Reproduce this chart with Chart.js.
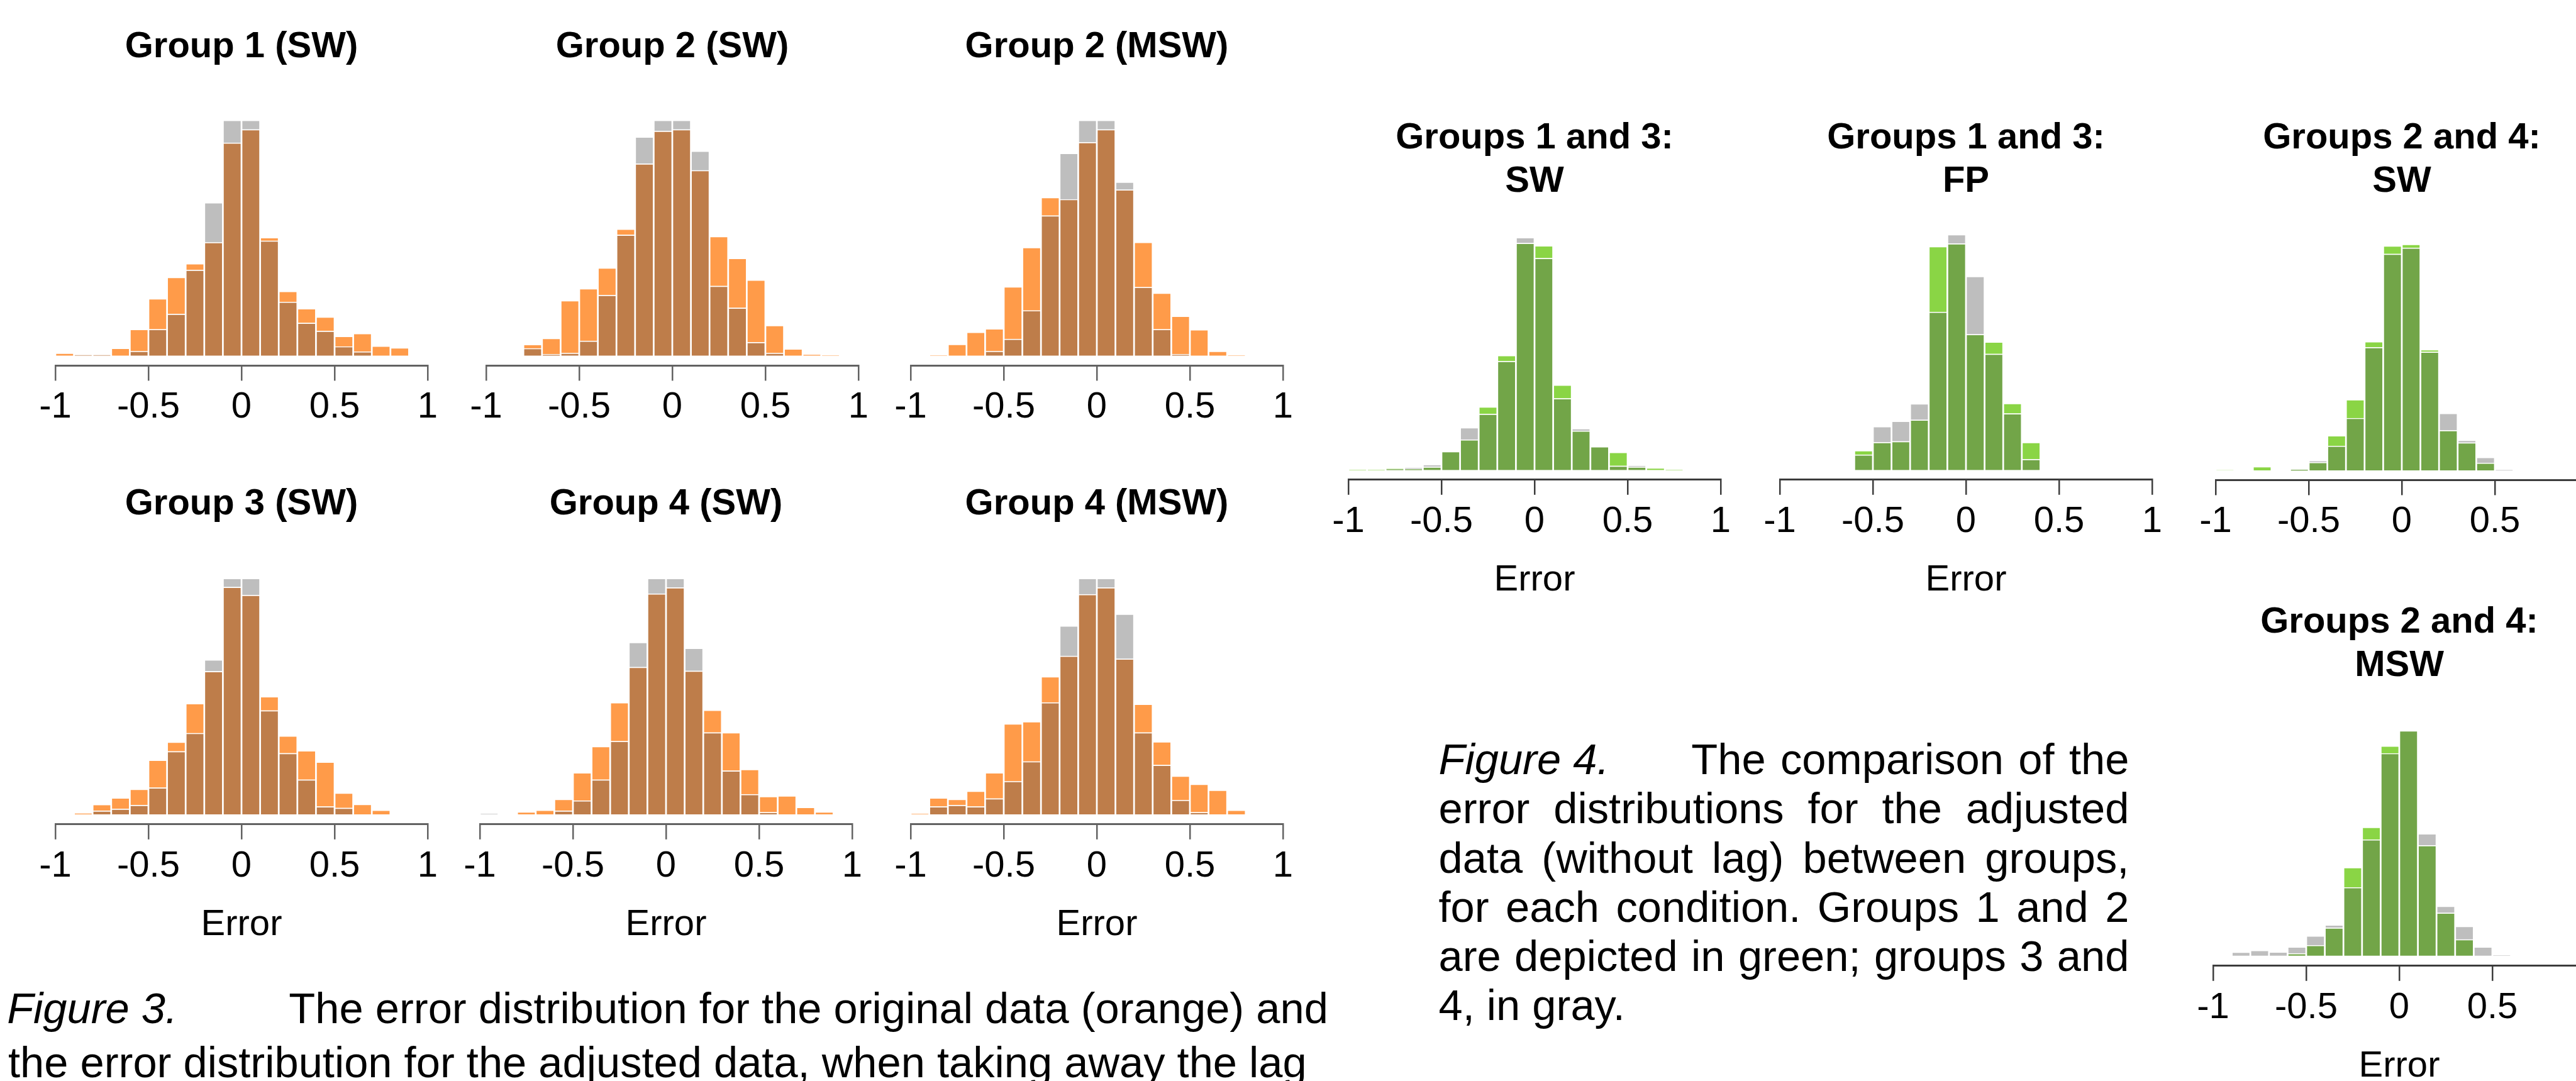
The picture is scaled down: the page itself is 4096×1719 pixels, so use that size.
<!DOCTYPE html>
<html>
<head>
<meta charset="utf-8">
<title>Error distributions</title>
<script src="https://cdn.jsdelivr.net/npm/chart.js@4.4.1/dist/chart.umd.min.js"></script>
<style>
  html, body { margin: 0; padding: 0; background: #fff; }
  #stage { position: relative; width: 4096px; height: 1719px; overflow: hidden; background: #fff; }
  #stage canvas { position: absolute; }
  .cap { position: absolute; white-space: nowrap; color: #000; font-family: 'Liberation Sans', Arial, sans-serif; }
</style>
</head>
<body>
<div id="stage"></div>
<script>
// --- bins and axis ticks ---
const binCenters = [-0.95, -0.85, -0.75, -0.65, -0.55, -0.45, -0.35, -0.25, -0.15, -0.05,
                    0.05, 0.15, 0.25, 0.35, 0.45, 0.55, 0.65, 0.75, 0.85, 0.95];
const xTickValues = [-1, -0.5, 0, 0.5, 1];
const xTickLabels = ['-1', '-0.5', '0', '0.5', '1'];

// --- Figure 3: original (orange) vs adjusted (gray), relative heights ---
const g1swOrig  = [1.1, 0.3, 0.3, 3.2, 11.2, 24.2, 33.3, 39.1, 48.1, 90.4, 96.1, 50.2, 27.4, 20.0, 16.5, 8.3, 9.5, 4.1, 3.4, 0];
const g1swAdj   = [0, 0.3, 0.3, 0, 1.9, 11.2, 17.7, 36.4, 65.0, 100, 100, 48.8, 22.8, 13.9, 10.5, 3.9, 1.7, 0, 0, 0];
const g2swOrig  = [0, 0, 4.8, 7.4, 23.4, 28.5, 37.3, 53.8, 81.5, 95.4, 96.1, 78.7, 50.7, 41.4, 32.2, 12.9, 2.9, 0.6, 0.2, 0];
const g2swAdj   = [0, 0, 3.1, 0.6, 1.1, 6.3, 25.7, 51.3, 92.9, 100, 100, 86.9, 29.6, 20.3, 5.7, 1.1, 0, 0, 0, 0];
const g2mswOrig = [0, 0.2, 4.9, 10.0, 11.5, 29.3, 46.0, 67.2, 66.4, 90.6, 96.1, 70.5, 48.2, 26.6, 16.8, 11.1, 1.9, 0.2, 0, 0];
const g2mswAdj  = [0, 0, 0, 0, 1.9, 7.1, 19.2, 59.5, 86.0, 100, 100, 73.8, 29.1, 11.2, 0.6, 0, 0, 0, 0, 0];
const g3swOrig  = [0, 0.5, 4.2, 7.0, 10.7, 23.0, 30.7, 47.0, 60.6, 96.3, 92.9, 49.9, 33.3, 27.0, 22.2, 9.1, 4.3, 1.8, 0, 0];
const g3swAdj   = [0, 0, 1.5, 2.3, 3.9, 11.3, 26.7, 34.4, 65.5, 100, 100, 44.0, 25.9, 14.7, 3.3, 2.7, 0, 0, 0, 0];
const g4swOrig  = [0, 0, 1.1, 1.8, 6.4, 17.7, 28.8, 47.4, 62.4, 93.5, 96.1, 60.8, 44.2, 34.7, 19.1, 7.6, 7.9, 3.0, 1.1, 0];
const g4swAdj   = [0.2, 0, 0, 0, 1.5, 5.8, 14.7, 31.0, 72.9, 100, 100, 70.4, 34.7, 18.5, 8.5, 0.9, 0, 0, 0, 0];
const g4mswOrig = [0.2, 7.0, 6.4, 9.9, 17.7, 38.4, 39.3, 58.4, 67.1, 93.2, 96.1, 65.9, 46.7, 30.8, 16.3, 12.8, 10.3, 1.8, 0, 0];
const g4mswAdj  = [0, 3.3, 3.9, 3.3, 6.7, 14.0, 22.4, 47.4, 79.9, 100, 100, 84.9, 34.7, 20.9, 6.0, 0.9, 0, 0, 0, 0];

// --- Figure 4: groups 1/2 (green) vs groups 3/4 (gray) ---
const g13swGreen  = [0.1, 0.1, 0.7, 0.5, 1.4, 8.0, 13.1, 27.2, 49.3, 97.6, 96.5, 36.6, 16.9, 10.1, 7.7, 1.4, 1.0, 0.1, 0, 0];
const g13swGray   = [0, 0, 0.5, 1.1, 2.4, 8.0, 18.3, 24.1, 46.8, 100, 91.1, 30.8, 17.9, 10.1, 1.8, 2.0, 0, 0, 0, 0];
const g13fpGreen  = [0, 0, 0, 0, 8.3, 11.8, 12.2, 21.3, 94.9, 96.1, 57.6, 54.4, 28.3, 11.8, 0, 0, 0, 0, 0, 0];
const g13fpGray   = [0, 0, 0, 0, 6.5, 18.5, 20.8, 28.2, 67.1, 100, 82.2, 49.3, 24.0, 4.6, 0, 0, 0, 0, 0, 0];
const g24swGreen  = [0.1, 0, 1.7, 0, 0.4, 3.6, 15.4, 31.3, 57.0, 99.3, 100, 53.4, 17.7, 12.3, 3.3, 0, 0, 0, 0, 0];
const g24swGray   = [0, 0, 0, 0, 0.4, 4.3, 10.8, 23.1, 54.4, 95.7, 98.4, 52.4, 25.3, 13.4, 5.8, 0.2, 0, 0, 0, 0];
const g24mswGreen = [0, 0, 0, 0, 1.0, 4.6, 12.4, 39.2, 57.1, 93.2, 100, 49.0, 19.0, 7.2, 0, 0, 0, 0, 0, 0];
const g24mswGray  = [0, 1.6, 2.4, 1.7, 3.9, 8.8, 13.7, 30.3, 51.6, 89.9, 100, 54.2, 22.0, 13.1, 3.9, 0.1, 0, 0, 0, 0];

// --- captions ---
const fig4Lines = [
  'error distributions for the adjusted',
  'data (without lag) between groups,',
  'for each condition. Groups 1 and 2',
  'are depicted in green; groups 3 and',
  '4, in gray.'
];

// --- look ---
const S = 0.928;                 // reference px -> page px
const FONT = "'Liberation Sans', Arial, Helvetica, sans-serif";
const FS = 58;                   // titles, tick labels, "Error"
const CAP_SIZE = 74 * S;
const TITLE_LH = 1.18, LABEL_LH = 1.2, TITLE_PAD = 10;
const TICK_LEN = 24, TICK_PAD = 8, ERR_PAD = 16, PAD_X = 50;
const orangePal = { a: '#FF9B49', both: '#BE7D4A', b: '#BEBEBE', axis: '#626262' };
const greenPal  = { a: '#8AD545', both: '#72A548', b: '#BEBEBE', axis: '#3c3c3c' };

Chart.defaults.font.family = FONT;
Chart.defaults.color = '#000';

// panel placement in reference pixels (tick -1 / tick 1, title line centre, bar top, bar base, axis line)
const panels = [
  { title: 'Group 1 (SW)',  a: g1swOrig,  b: g1swAdj,  pal: orangePal, x0: 95,    x1: 733,  titleY: 81,    top: 206,   base: 609,  axis: 626 },
  { title: 'Group 2 (SW)',  a: g2swOrig,  b: g2swAdj,  pal: orangePal, x0: 833.5, x1: 1471, titleY: 81,    top: 206,   base: 609,  axis: 626 },
  { title: 'Group 2 (MSW)', a: g2mswOrig, b: g2mswAdj, pal: orangePal, x0: 1560,  x1: 2198, titleY: 81,    top: 206,   base: 609,  axis: 626 },
  { title: 'Group 3 (SW)',  a: g3swOrig,  b: g3swAdj,  pal: orangePal, x0: 95,    x1: 733,  titleY: 864.5, top: 991,   base: 1395, axis: 1412, error: true },
  { title: 'Group 4 (SW)',  a: g4swOrig,  b: g4swAdj,  pal: orangePal, x0: 822,   x1: 1460, titleY: 864.5, top: 991,   base: 1395, axis: 1412, error: true },
  { title: 'Group 4 (MSW)', a: g4mswOrig, b: g4mswAdj, pal: orangePal, x0: 1560,  x1: 2198, titleY: 864.5, top: 991,   base: 1395, axis: 1412, error: true },
  { title: ['Groups 1 and 3:', 'SW'],  a: g13swGreen,  b: g13swGray,  pal: greenPal, x0: 2310.6, x1: 2948.6, titleY: 237.5,  top: 407,   base: 806,  axis: 822.5, error: true },
  { title: ['Groups 1 and 3:', 'FP'],  a: g13fpGreen,  b: g13fpGray,  pal: greenPal, x0: 3049.7, x1: 3687,   titleY: 237.5,  top: 401.7, base: 806,  axis: 822.5, error: true },
  { title: ['Groups 2 and 4:', 'SW'],  a: g24swGreen,  b: g24swGray,  pal: greenPal, x0: 3796.6, x1: 4434,   titleY: 237.5,  top: 418.5, base: 806,  axis: 822.5 },
  { title: ['Groups 2 and 4:', 'MSW'], a: g24mswGreen, b: g24mswGray, pal: greenPal, x0: 3792,   x1: 4430,   titleY: 1067.5, top: 1252,  base: 1638, axis: 1655.4, error: true }
];

const stage = document.getElementById('stage');

// split two overlapping histograms into shared part and the two excess parts
function splitBars(a, b) {
  const both = [], aOnly = [], bOnly = [];
  binCenters.forEach((x, i) => {
    const lo = Math.min(a[i], b[i]), hi = Math.max(a[i], b[i]);
    if (lo > 0) both.push({ x, y: [0, lo] });
    if (a[i] > b[i]) aOnly.push({ x, y: [lo, hi] });
    if (b[i] > a[i]) bOnly.push({ x, y: [lo, hi] });
  });
  return { both, aOnly, bOnly };
}

function barSet(data, color) {
  return {
    data,
    backgroundColor: color,
    borderColor: '#ffffff',
    borderWidth: 1.7,
    barPercentage: 1,
    categoryPercentage: 1,
    grouped: false
  };
}

function drawPanel(p) {
  const lines = Array.isArray(p.title) ? p.title.length : 1;
  const tlh = FS * TITLE_LH;
  const top = Math.round(p.titleY * S - TITLE_PAD - tlh / 2);
  const padBelowTitle = p.top * S - top - TITLE_PAD - tlh * lines;
  const axisBox = TICK_LEN + 2 * TICK_PAD + FS * LABEL_LH + (p.error ? ERR_PAD + FS * LABEL_LH : 0);
  const left = Math.round(p.x0 * S - PAD_X);
  const right = Math.round(p.x1 * S + PAD_X);
  const bottom = Math.round(p.axis * S + axisBox);
  const yMin = -(p.axis - p.base) / (p.base - p.top) * 100;

  const canvas = document.createElement('canvas');
  canvas.width = right - left;
  canvas.height = bottom - top;
  canvas.style.left = left + 'px';
  canvas.style.top = top + 'px';
  stage.appendChild(canvas);

  const parts = splitBars(p.a, p.b);

  new Chart(canvas, {
    type: 'bar',
    data: {
      datasets: [
        barSet(parts.both, p.pal.both),
        barSet(parts.aOnly, p.pal.a),
        barSet(parts.bOnly, p.pal.b)
      ]
    },
    options: {
      responsive: false,
      animation: false,
      devicePixelRatio: 1,
      events: [],
      layout: { padding: { left: PAD_X, right: PAD_X, top: 0, bottom: 0 } },
      plugins: {
        legend: { display: false },
        tooltip: { enabled: false },
        title: {
          display: true,
          text: p.title,
          color: '#000',
          font: { size: FS, weight: 'bold', lineHeight: TITLE_LH },
          padding: { top: TITLE_PAD, bottom: padBelowTitle }
        }
      },
      scales: {
        x: {
          type: 'linear',
          min: -1,
          max: 1,
          offset: false,
          grid: {
            display: true, offset: false, drawOnChartArea: false, drawTicks: true,
            tickLength: TICK_LEN, color: p.pal.axis, lineWidth: 2.5
          },
          border: { display: true, color: p.pal.axis, width: 3 },
          afterBuildTicks: s => { s.ticks = xTickValues.map(v => ({ value: v })); },
          ticks: {
            color: '#000',
            font: { size: FS, lineHeight: LABEL_LH },
            padding: TICK_PAD,
            maxRotation: 0,
            autoSkip: false,
            callback: (v, i) => xTickLabels[i]
          },
          title: {
            display: !!p.error,
            text: 'Error',
            color: '#000',
            font: { size: FS, lineHeight: LABEL_LH },
            padding: { top: ERR_PAD, bottom: 0 }
          }
        },
        y: { display: false, min: yMin, max: 100 }
      }
    }
  });
}

panels.forEach(drawPanel);

// --- captions as plain text ---
const meas = document.createElement('canvas').getContext('2d');

function addText(str, x, yc, opt = {}) {
  const el = document.createElement('div');
  el.className = 'cap';
  el.textContent = str;
  const lh = CAP_SIZE * 1.2;
  el.style.fontSize = CAP_SIZE + 'px';
  el.style.lineHeight = lh + 'px';
  el.style.left = (x * S) + 'px';
  el.style.top = (yc * S - lh / 2) + 'px';
  if (opt.italic) el.style.fontStyle = 'italic';
  if (opt.justifyTo) {
    meas.font = CAP_SIZE + 'px ' + FONT;
    const w = meas.measureText(str).width;
    const gaps = str.split(' ').length - 1;
    if (gaps > 0) el.style.wordSpacing = (((opt.justifyTo - x) * S - w) / gaps) + 'px';
  }
  stage.appendChild(el);
}

addText('Figure 3.', 12, 1729, { italic: true });
addText('The error distribution for the original data (orange) and', 495, 1729);
addText('the error distribution for the adjusted data, when taking away the lag', 14, 1821);

addText('Figure 4.', 2465, 1302, { italic: true });
addText('The comparison of the', 2898, 1302, { justifyTo: 3648 });
fig4Lines.forEach((line, k) => {
  const last = k === fig4Lines.length - 1;
  addText(line, 2465, 1302 + 84.3 * (k + 1), last ? {} : { justifyTo: 3648 });
});
</script>
</body>
</html>
